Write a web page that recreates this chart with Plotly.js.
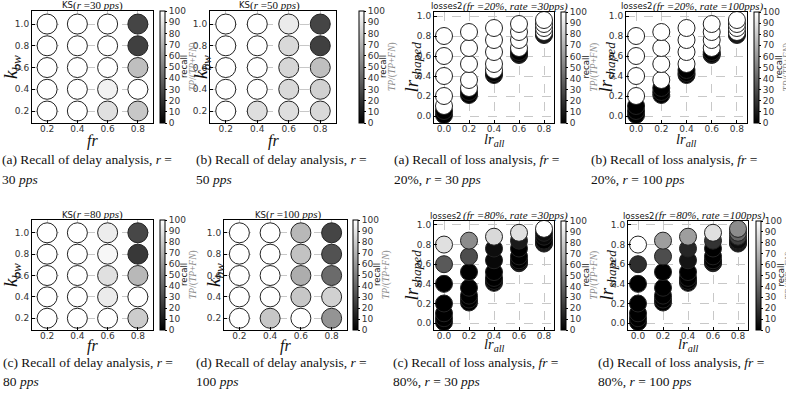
<!DOCTYPE html>
<html><head><meta charset="utf-8">
<script src="https://cdn.plot.ly/plotly-3.0.1.min.js"></script>
<style>html,body{margin:0;padding:0;background:#fff}#c{width:786px;height:395px}</style>
</head><body><div id="c"></div>
<script>
// ---------- DATA ----------
const ksFr = [0.2, 0.4, 0.6, 0.8];
const ksKbw = [0.2, 0.4, 0.6, 0.8, 1.0];
// recall[fr index][kbw index]
const ksRecall30 = [[100,100,100,100,100],[100,100,100,100,100],[88,95,100,100,100],[78,100,75,25,27]];
const ksRecall50 = [[100,100,100,100,100],[87,100,100,100,100],[87,85,84,85,92],[85,82,75,25,27]];
const ksRecall80 = [[100,100,100,100,100],[100,100,100,100,100],[100,92,88,97,93],[80,100,72,22,28]];
const ksRecall100 = [[100,100,100,100,100],[78,100,100,100,100],[100,78,68,76,72],[58,82,42,32,27]];

const lossLrAll = [0.0, 0.2, 0.4, 0.6, 0.8];
// lr_shaped values per lr_all column (drawn bottom to top)
const lossLrShaped = [
  [0.01,0.05,0.10,0.20,0.40,0.60,0.80],
  [0.21,0.24,0.28,0.36,0.52,0.68,0.84],
  [0.41,0.43,0.46,0.52,0.64,0.76,0.88],
  [0.61,0.62,0.64,0.68,0.76,0.84,0.92],
  [0.81,0.82,0.83,0.84,0.88,0.92,0.96]
];
const lossRecallFr20R30 = [[0,0,100,100,100,100,100],[0,0,100,100,100,100,100],[0,0,100,100,100,100,100],[0,0,0,100,100,100,100],[0,0,0,100,100,100,100]];
const lossRecallFr20R100 = [[0,0,0,100,100,100,100],[0,0,0,100,100,100,100],[0,0,0,100,100,100,100],[0,0,0,100,100,100,100],[0,0,0,100,100,100,100]];
const lossRecallFr80R30 = [[0,0,0,0,0,35,88],[0,0,0,0,0,30,55],[0,0,0,0,3,5,85],[0,0,0,0,0,10,88],[0,0,0,0,3,5,100]];
const lossRecallFr80R100 = [[0,0,0,0,0,18,100],[0,0,0,0,0,30,62],[0,0,0,0,8,15,62],[0,0,0,0,0,20,88],[0,0,0,5,25,40,55]];
const cbTicks = [0,10,20,30,40,50,60,70,80,90,100];

// ---------- LAYOUT HELPERS ----------
const W = 786, H = 395;
const px = x => x / W, py = y => 1 - y / H;
const SERIF = 'Liberation Serif, Times New Roman, serif';
const SANS = 'DejaVu Sans, sans-serif';
const SP = '&nbsp;';

const panels = [
  {kind:'ks', d:ksRecall30, x0:32, x1:153, y0:11, y1:123, cb:160, ylab:12, lab:18,
   t1:'KS', t2:'(<i>r</i> =30 <i>pps</i>)', tx:61, t2x:72,
   cap:['(a) Recall of delay analysis, <i>r</i> =', '30' + SP + '<i>pps</i>'], capx:1, capy:160},
  {kind:'ks', d:ksRecall50, x0:210, x1:336, y0:11, y1:123, cb:359, ylab:202, lab:18,
   t1:'KS', t2:'(<i>r</i> =50 <i>pps</i>)', tx:238, t2x:249,
   cap:['(b) Recall of delay analysis, <i>r</i> =', '50' + SP + '<i>pps</i>'], capx:195, capy:160},
  {kind:'loss', d:lossRecallFr20R30, x0:434, x1:554, y0:12, y1:123, cb:561, ylab:412, lab:17,
   t1:'losses2', t2:'<i>(fr =20%, rate =30pps)</i>', tx:430, t2x:462,
   cap:['(a) Recall of loss analysis, <i>fr</i> =', '20%,' + SP + '<i>r</i>' + SP + '=' + SP + '30' + SP + '<i>pps</i>'], capx:393, capy:160},
  {kind:'loss', d:lossRecallFr20R100, x0:626, x1:747, y0:12, y1:123, cb:754, ylab:606, lab:17,
   t1:'losses2', t2:'<i>(fr =20%, rate =100pps)</i>', tx:620, t2x:652,
   cap:['(b) Recall of loss analysis, <i>fr</i> =', '20%,' + SP + '<i>r</i>' + SP + '=' + SP + '100' + SP + '<i>pps</i>'], capx:590, capy:160},
  {kind:'ks', d:ksRecall80, x0:32, x1:153, y0:220, y1:330, cb:160, ylab:12, lab:16,
   t1:'KS', t2:'(<i>r</i> =80 <i>pps</i>)', tx:61, t2x:72,
   cap:['(c) Recall of delay analysis, <i>r</i> =', '80' + SP + '<i>pps</i>'], capx:2, capy:362},
  {kind:'ks', d:ksRecall100, x0:224, x1:347, y0:220, y1:330, cb:353, ylab:215, lab:16,
   t1:'KS', t2:'(<i>r</i> =100 <i>pps</i>)', tx:254, t2x:265,
   cap:['(d) Recall of delay analysis, <i>r</i> =', '100' + SP + '<i>pps</i>'], capx:195, capy:362},
  {kind:'loss', d:lossRecallFr80R30, x0:434, x1:554, y0:221, y1:330, cb:561, ylab:412, lab:15,
   t1:'losses2', t2:'<i>(fr =80%, rate =30pps)</i>', tx:429, t2x:462,
   cap:['(c) Recall of loss analysis, <i>fr</i> =', '80%,' + SP + '<i>r</i>' + SP + '=' + SP + '30' + SP + '<i>pps</i>'], capx:392, capy:362},
  {kind:'loss', d:lossRecallFr80R100, x0:628, x1:748, y0:221, y1:330, cb:756, ylab:607, lab:15,
   t1:'losses2', t2:'<i>(fr =80%, rate =100pps)</i>', tx:622, t2x:654,
   cap:['(d) Recall of loss analysis, <i>fr</i> =', '80%,' + SP + '<i>r</i>' + SP + '=' + SP + '100' + SP + '<i>pps</i>'], capx:597, capy:362}
];

const traces = [];
const layout = {
  width: W, height: H, margin:{l:0,r:0,t:0,b:0},
  paper_bgcolor:'#fff', plot_bgcolor:'#fff', showlegend:false,
  font:{family:SANS, size:9, color:'#333'},
  annotations: []
};

panels.forEach((p, i) => {
  const n = i + 1;
  const xa = n === 1 ? 'x' : 'x' + n, ya = n === 1 ? 'y' : 'y' + n;
  const xs = [], ys = [], cs = [];
  if (p.kind === 'ks') {
    ksFr.forEach((f, a) => ksKbw.forEach((k, b) => { xs.push(f); ys.push(k); cs.push(p.d[a][b]); }));
  } else {
    lossLrAll.forEach((l, a) => lossLrShaped[a].forEach((s, b) => { xs.push(l); ys.push(s); cs.push(p.d[a][b]); }));
  }
  const cy = (p.y0 + p.y1) / 2;
  traces.push({
    type:'scatter', mode:'markers', x:xs, y:ys, xaxis:xa, yaxis:ya, cliponaxis:true,
    hoverinfo:'skip',
    marker:{size: p.kind === 'ks' ? 20 : 17, color:cs, cmin:0, cmax:100,
      colorscale:[[0,'#000000'],[1,'#ffffff']], line:{color:'#222', width:1},
      showscale:true,
      colorbar:{x:px(p.cb), xanchor:'left', y:py(cy), yanchor:'middle',
        len:p.y1 - p.y0, lenmode:'pixels', thickness:5, thicknessmode:'pixels',
        xpad:0, ypad:0, outlinewidth:1, outlinecolor:'#000', borderwidth:0,
        tickvals:cbTicks, ticks:'outside', ticklen:2, tickcolor:'#000',
        tickfont:{family:SANS, size:9, color:'#333'}}}
  });
  const common = {showline:true, mirror:true, linecolor:'#000', linewidth:1,
    ticks:'inside', ticklen:3, tickcolor:'#000', zeroline:false,
    showgrid:true, gridcolor:'#c8c8c8', griddash:'dash', gridwidth:1,
    tickformat:'.1f', tickfont:{family:SANS, size:9, color:'#333'}, fixedrange:true};
  const xdom = [px(p.x0), px(p.x1)], ydom = [py(p.y1), py(p.y0)];
  layout['xaxis' + (n === 1 ? '' : n)] = Object.assign({}, common, {
    domain:xdom, anchor:ya, ticklabelstandoff:-3,
    range: p.kind === 'ks' ? [0.1, 0.9] : [-0.08, 0.88],
    tickvals: p.kind === 'ks' ? ksFr : lossLrAll});
  layout['yaxis' + (n === 1 ? '' : n)] = Object.assign({}, common, {
    domain:ydom, anchor:xa,
    range: p.kind === 'ks' ? [0.09, 1.12] : [-0.07, 1.04],
    tickvals: p.kind === 'ks' ? ksKbw : [0.0,0.2,0.4,0.6,0.8,1.0]});

  const A = layout.annotations;
  const cx = (p.x0 + p.x1) / 2;
  const ty = p.y0 - 5.5;
  // title: sans prefix + serif math part
  A.push({xref:'paper', yref:'paper', x:px(p.tx), y:py(ty), xanchor:'left', yanchor:'middle',
    showarrow:false, text:p.t1, font:{family:SANS, size:8.5, color:'#111'}, borderpad:0});
  A.push({xref:'paper', yref:'paper', x:px(p.t2x), y:py(ty), xanchor:'left', yanchor:'middle',
    showarrow:false, text:p.t2, font:{family:SERIF, size:11, color:'#111'}, borderpad:0});
  // axis labels
  A.push({xref:'paper', yref:'paper', x:px(cx), y:py(p.y1 + p.lab), xanchor:'center', yanchor:'middle',
    showarrow:false, text: p.kind === 'ks' ? '<i>fr</i>' : '<i>lr</i><sub><i>all</i></sub>',
    font:{family:SERIF, size: p.kind === 'ks' ? 16 : 14.5, color:'#111'}, borderpad:0});
  A.push({xref:'paper', yref:'paper', x:px(p.ylab), y:py(cy), xanchor:'center', yanchor:'middle',
    showarrow:false, textangle:-90,
    text: p.kind === 'ks' ? '<i>k</i><sub><i>bw</i></sub>' : '<i>lr</i><sub><i>shaped</i></sub>',
    font:{family:SERIF, size:19, color:'#111'}, borderpad:0});
  // colorbar labels
  A.push({xref:'paper', yref:'paper', x:px(p.cb + 5 + 19), y:py(cy), xanchor:'center', yanchor:'middle',
    showarrow:false, textangle:-90, text:'recall', font:{family:SANS, size:8.5, color:'#222'}, borderpad:0});
  A.push({xref:'paper', yref:'paper', x:px(p.cb + 5 + 28), y:py(cy), xanchor:'center', yanchor:'middle',
    showarrow:false, textangle:-90, text:'<i>TP</i>/(<i>TP</i>+<i>FN</i>)', font:{family:SERIF, size:9.5, color:'#888'}, borderpad:0});
  // captions
  A.push({xref:'paper', yref:'paper', x:px(p.capx), y:py(p.capy), xanchor:'left', yanchor:'middle',
    showarrow:false, text:p.cap[0], font:{family:SERIF, size:13.5, color:'#111'}, borderpad:0});
  A.push({xref:'paper', yref:'paper', x:px(p.capx), y:py(p.capy + 19), xanchor:'left', yanchor:'middle',
    showarrow:false, text:p.cap[1], font:{family:SERIF, size:13.5, color:'#111'}, borderpad:0});
});

Plotly.newPlot('c', traces, layout, {staticPlot:true, displayModeBar:false});
</script>
</body></html>
